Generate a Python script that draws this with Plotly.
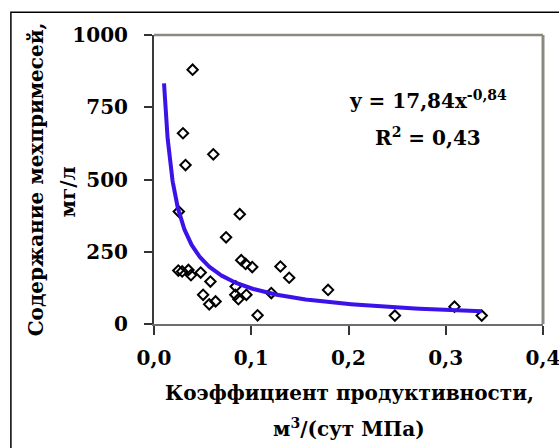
import plotly.graph_objects as go
import numpy as np

# Measured points: coefficient of productivity (x) vs. mechanical impurities content (y)
x_vals = [0.0397, 0.0298, 0.0324, 0.061, 0.0255, 0.0882, 0.0741, 0.0897, 0.0942, 0.1010,
          0.130, 0.139, 0.179, 0.1206, 0.2477, 0.309, 0.337, 0.1065, 0.0950, 0.0836,
          0.0868, 0.0840, 0.0250, 0.0290, 0.0354, 0.0380, 0.0480, 0.0580, 0.0505,
          0.0568, 0.0633]
y_vals = [880, 660, 550, 587, 389, 380, 300, 221, 208, 197,
          199, 160, 118, 107, 29, 60, 29, 30, 101, 101,
          86, 130, 185, 182, 187, 169, 178, 147, 101,
          68, 78]

# Power trend line from the chart equation y = 17,84 x^-0,84
fit_a = 17.84
fit_b = -0.84
fit_x_min = 0.0103
fit_x_max = 0.337
fit_x = np.geomspace(fit_x_min, fit_x_max, 200)
fit_y = fit_a * fit_x ** fit_b

x_ticks = [0.0, 0.1, 0.2, 0.3, 0.4]
x_tick_text = ["0,0", "0,1", "0,2", "0,3", "0,4"]
y_ticks = [0, 250, 500, 750, 1000]
y_tick_text = ["0", "250", "500", "750", "1000"]

FONT = "DejaVu Serif"
FS = 20
W, H = 559, 448
L, R, T, B = 154, 16.3, 35, 123.7
pw = W - L - R
ph = H - T - B


def px(xp):
    return (xp - L) / pw


def py(yp):
    return (H - B - yp) / ph


fig = go.Figure()
fig.add_trace(go.Scatter(
    x=x_vals, y=y_vals, mode="markers",
    marker=dict(symbol="diamond-open", size=8, color="black", line=dict(width=2, color="black")),
    showlegend=False, cliponaxis=False,
))
fig.add_trace(go.Scatter(
    x=fit_x, y=fit_y, mode="lines",
    line=dict(color="#3c12e8", width=4),
    showlegend=False,
))

tickfont = dict(family=FONT, size=FS, color="black", weight=700)
fig.update_layout(
    width=W, height=H,
    margin=dict(l=L, r=R, t=T, b=B, autoexpand=False),
    paper_bgcolor="white", plot_bgcolor="white",
    font=dict(family=FONT, size=FS, color="black"),
    showlegend=False,
    xaxis=dict(
        range=[0, 0.4], tickvals=x_ticks, ticktext=x_tick_text,
        showgrid=False, zeroline=False, automargin=False,
        showline=True, linecolor="#6e6e6e", linewidth=2,
        ticks="outside", ticklen=9, tickwidth=1.5, tickcolor="#333333",
        tickfont=tickfont, ticklabelstandoff=6, ticklabeloverflow="allow",
    ),
    yaxis=dict(
        range=[0, 1000], tickvals=y_ticks, ticktext=y_tick_text,
        showgrid=False, zeroline=False, automargin=False,
        showline=True, linecolor="#3a3a3a", linewidth=2,
        ticks="outside", ticklen=8, tickwidth=1.5, tickcolor="#333333",
        tickfont=tickfont, ticklabelstandoff=12,
    ),
)

# plot-area border (top and right) in grey
fig.add_shape(type="line", xref="paper", yref="paper", x0=0, x1=1, y0=1, y1=1,
              line=dict(color="#8c897f", width=2.5))
fig.add_shape(type="line", xref="paper", yref="paper", x0=1, x1=1, y0=0, y1=1,
              line=dict(color="#8c897f", width=3))
# outer frame
fig.add_shape(type="rect", xref="paper", yref="paper",
              x0=px(11), x1=px(566), y0=py(12.3), y1=py(460),
              line=dict(color="black", width=1.5), fillcolor="rgba(0,0,0,0)")

ann_font = dict(family=FONT, size=FS, color="black", weight=700)


def add_text(xp, yp, text, angle=0):
    fig.add_annotation(x=px(xp), y=py(yp), xref="paper", yref="paper",
                       text=text, textangle=angle, showarrow=False,
                       font=ann_font, xanchor="center", yanchor="middle")


add_text(35.6, 180, "Содержание мехпримесей,", -90)
add_text(67.7, 192, "мг/л", -90)
add_text(349, 393, "Коэффициент продуктивности,")
add_text(349, 428, "м<sup>3</sup>/(сут МПа)")
add_text(428, 100, "y = 17,84x<sup>-0,84</sup>")
add_text(428, 137, "R<sup>2</sup> = 0,43")

fig.write_html("out.html")
